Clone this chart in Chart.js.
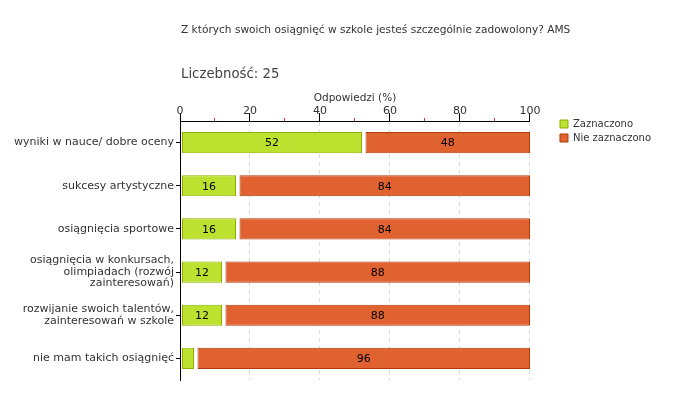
<!DOCTYPE html>
<html><head><meta charset="utf-8">
<script src="https://cdn.jsdelivr.net/npm/chart.js@4"></script>
<style>html,body{margin:0;padding:0;background:#fff}#wrap{width:680px;height:400px}</style>
</head><body><div id="wrap"><canvas id="c" width="680" height="400"></canvas></div>
<script>
const chartTitle = 'Z których swoich osiągnięć w szkole jesteś szczególnie zadowolony? AMS';
const sampleLabel = 'Liczebność: 25';
const axisTitle = 'Odpowiedzi (%)';
const categories = [
  'wyniki w nauce/ dobre oceny',
  'sukcesy artystyczne',
  'osiągnięcia sportowe',
  ['osiągnięcia w konkursach,', 'olimpiadach (rozwój', 'zainteresowań)'],
  ['rozwijanie swoich talentów,', 'zainteresowań w szkole'],
  'nie mam takich osiągnięć'
];
const seriesNames = ['Zaznaczono', 'Nie zaznaczono'];
const zaznaczono = [52, 16, 16, 12, 12, 4];
const nieZaznaczono = [48, 84, 84, 88, 88, 96];
const majorTicks = [0, 20, 40, 60, 80, 100];

const FONT = "'DejaVu Sans', Verdana, sans-serif";
Chart.defaults.font.family = FONT;
Chart.defaults.font.size = 10;
Chart.defaults.color = '#333';

const barStyle = {
  gapStart: [1.5, 3.5],
  minLabelValue: 5
};

const decorPlugin = {
  id: 'decor',
  afterLayout(chart) {
    const l = chart.legend;
    if (l) { l.left += 26; l.right += 26; l.top -= 6; l.bottom -= 6; }
  },
  beforeDatasetsDraw(chart) {
    chart.data.datasets.forEach((ds, di) => {
      chart.getDatasetMeta(di).data.forEach(el => {
        el._origBase = el.base;
        el.base = el.base + barStyle.gapStart[di];
      });
    });
  },
  afterDatasetsDraw(chart) {
    const ctx = chart.ctx;
    ctx.save();
    ctx.font = '11px ' + FONT;
    ctx.fillStyle = '#000';
    ctx.textAlign = 'center';
    ctx.textBaseline = 'middle';
    chart.data.datasets.forEach((ds, di) => {
      chart.getDatasetMeta(di).data.forEach((el, i) => {
        const v = ds.data[i];
        if (v >= barStyle.minLabelValue) {
          ctx.fillText(String(v), (el.x + el.base) / 2, el.y + 1);
        }
        el.base = el._origBase;
      });
    });
    ctx.restore();
  },
  afterDraw(chart) {
    const ctx = chart.ctx;
    const left = chart.chartArea.left;
    ctx.save();
    ctx.fillStyle = '#333';
    ctx.textBaseline = 'middle';
    ctx.textAlign = 'left';
    ctx.font = '10.6px ' + FONT;
    ctx.fillText(chartTitle, left + 1, 30);
    ctx.fillStyle = '#444';
    ctx.font = '13.3px ' + FONT;
    ctx.fillText(sampleLabel, left + 1, 75);
    ctx.restore();
  }
};

new Chart(document.getElementById('c'), {
  type: 'bar',
  data: {
    labels: categories,
    datasets: [
      { label: seriesNames[0], data: zaznaczono, backgroundColor: '#bde12f', borderColor: '#8cae00', borderWidth: 1, borderSkipped: false },
      { label: seriesNames[1], data: nieZaznaczono, backgroundColor: '#e06230', borderColor: '#b03a08', borderWidth: 1, borderSkipped: false }
    ]
  },
  options: {
    indexAxis: 'y',
    responsive: false,
    animation: false,
    devicePixelRatio: 1,
    layout: { padding: { top: 90, bottom: 20, left: 0, right: 45 } },
    datasets: { bar: { barPercentage: 0.49, categoryPercentage: 1 } },
    scales: {
      x: {
        position: 'top', stacked: true, min: 0, max: 100,
        afterFit(scale) { scale.height = 31; },
        title: { display: true, text: axisTitle, color: '#333', font: { size: 10.5 }, padding: { top: 2, bottom: 0 } },
        ticks: {
          stepSize: 10, autoSkip: false, maxRotation: 0, padding: -5, color: '#333', font: { size: 11 },
          callback: v => majorTicks.includes(v) ? v : ''
        },
        grid: {
          color: c => (c.tick && majorTicks.includes(c.tick.value) && c.tick.value > 0) ? '#d9d9d9' : 'rgba(0,0,0,0)',
          tickColor: c => (c.tick && majorTicks.includes(c.tick.value)) ? '#000' : '#e03030',
          tickLength: 8,
          tickBorderDash: c => (c.tick && majorTicks.includes(c.tick.value)) ? [] : [0, 5, 3, 100],
          tickBorderDashOffset: 0
        },
        border: { display: true, color: '#000', width: 1, dash: [4, 4] }
      },
      y: {
        stacked: true,
        afterFit(scale) { scale.width = 180; },
        ticks: { color: '#333', font: { size: 11, lineHeight: 1.05 }, padding: 2 },
        grid: { drawOnChartArea: false, offset: false, tickLength: 4, tickColor: '#000' },
        border: { display: true, color: '#000', width: 1 }
      }
    },
    plugins: {
      legend: {
        position: 'right', align: 'start', fullSize: false,
        labels: { boxWidth: 8, boxHeight: 8, padding: 4, color: '#333', font: { size: 10 } }
      },
      title: { display: false },
      tooltip: { enabled: false }
    }
  },
  plugins: [decorPlugin]
});
</script>
</body></html>
